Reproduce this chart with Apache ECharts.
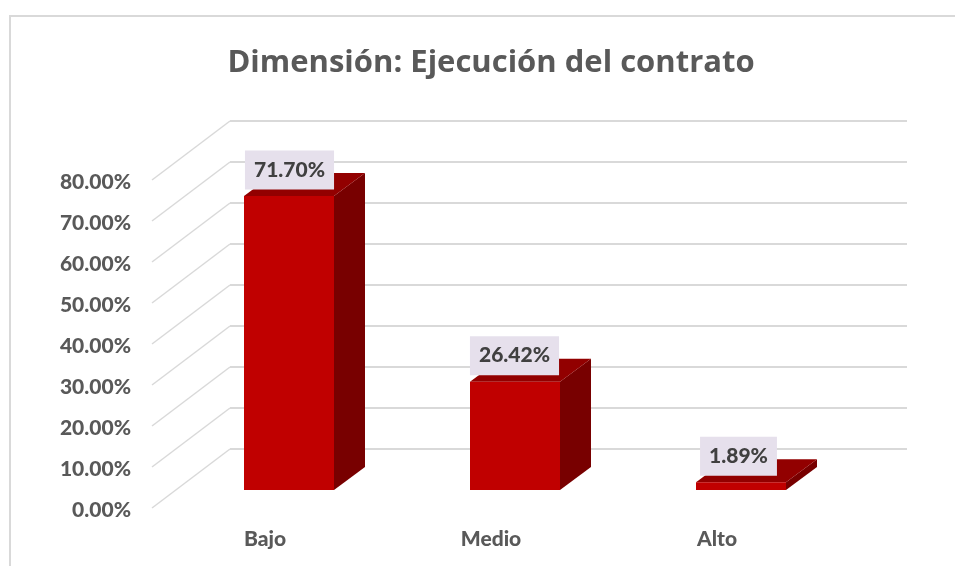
<!DOCTYPE html>
<html>
<head>
<meta charset="utf-8">
<style>
  html, body { margin: 0; padding: 0; background: #fff; }
  #chart { width: 955px; height: 566px; }
</style>
<script src="https://cdn.jsdelivr.net/npm/echarts@6/dist/echarts.min.js"></script>
</head>
<body>
<div id="chart"></div>
<script>
const categories = ['Bajo', 'Medio', 'Alto']
const values = [71.70, 26.42, 1.89]
const yTicks = [0, 10, 20, 30, 40, 50, 60, 70, 80]

// fake 3d: floor depth of the chart and depth of one bar, in px
const floorDepth = [78, 59]
const barInset = [24, 18]
const barDepth = [31, 23]
const barWidth = 90
const labelShift = [0.5, -0.5, -2.5]
const fontName = 'Lato'

const chart = echarts.init(document.getElementById('chart'))

function renderGridLine(params, api) {
  const p = api.coord([0, api.value(1)])
  const x0 = params.coordSys.x
  const xBack = x0 + floorDepth[0]
  const yBack = p[1] - floorDepth[1]
  const xEnd = params.coordSys.x + params.coordSys.width + floorDepth[0] - 1
  return {
    type: 'group',
    children: [{
      type: 'line',
      shape: { x1: x0, y1: p[1], x2: xBack, y2: yBack },
      style: { stroke: '#d9d9d9', lineWidth: 1.5 }
    }, {
      type: 'line',
      shape: { x1: xBack, y1: yBack, x2: xEnd, y2: yBack },
      style: { stroke: '#d9d9d9', lineWidth: 2 }
    }]
  }
}

function renderBar(params, api) {
  const base = api.coord([api.value(0), 0])
  const top = api.coord([api.value(0), api.value(1)])
  const l = base[0] - barWidth / 2 + barInset[0]
  const r = l + barWidth
  const b = base[1] - barInset[1]
  const t = top[1] - barInset[1]
  const dx = barDepth[0]
  const dy = barDepth[1]
  return {
    type: 'group',
    children: [{
      type: 'polygon',
      shape: { points: [[r, t], [r + dx, t - dy], [r + dx, b - dy], [r, b]] },
      style: { fill: '#780000' }
    }, {
      type: 'polygon',
      shape: { points: [[l, t], [l + dx, t - dy], [r + dx, t - dy], [r, t]] },
      style: { fill: '#920000' }
    }, {
      type: 'rect',
      shape: { x: l, y: t, width: barWidth, height: b - t },
      style: { fill: '#c00000' }
    }, {
      type: 'text',
      style: {
        x: (l + r) / 2 + labelShift[params.dataIndex],
        y: t - 26,
        text: api.value(1).toFixed(2) + '%',
        align: 'center',
        verticalAlign: 'middle',
        fill: '#404040',
        font: '900 21px ' + fontName,
        backgroundColor: '#e6e0ec',
        padding: [11, 9, 7, 9]
      }
    }]
  }
}

chart.setOption({
  animation: false,
  backgroundColor: '#fff',
  title: {
    text: 'Dimensión: Ejecución del contrato',
    left: 486,
    top: 43,
    textAlign: 'center',
    textStyle: { color: '#595959', fontFamily: 'Open Sans', fontWeight: 'bold', fontSize: 31 }
  },
  graphic: [{
    type: 'polyline',
    silent: true,
    shape: { points: [[10, 570], [10, 16], [960, 16]] },
    style: { stroke: '#d9d9d9', lineWidth: 2, fill: 'none' }
  }],
  grid: { left: 152, top: 180, width: 678, height: 328 },
  xAxis: {
    type: 'category',
    data: categories,
    axisLine: { show: false },
    axisTick: { show: false },
    axisLabel: {
      color: '#595959',
      fontFamily: fontName,
      fontWeight: 900,
      fontSize: 21,
      margin: 21
    }
  },
  yAxis: {
    type: 'value',
    min: 0,
    max: 80,
    interval: 10,
    axisLine: { show: false },
    axisTick: { show: false },
    splitLine: { show: false },
    axisLabel: {
      color: '#595959',
      fontFamily: fontName,
      fontWeight: 900,
      fontSize: 21,
      margin: 21,
      // nudges the text a little under its tick
      verticalAlign: 'top',
      lineHeight: 4,
      formatter: v => v.toFixed(2) + '%'
    }
  },
  series: [{
    type: 'custom',
    name: 'grid',
    silent: true,
    z: 1,
    clip: false,
    renderItem: renderGridLine,
    data: yTicks.map(t => [0, t])
  }, {
    type: 'custom',
    name: 'bars',
    z: 2,
    clip: false,
    renderItem: renderBar,
    data: values.map((v, i) => [i, v])
  }]
})
</script>
</body>
</html>
